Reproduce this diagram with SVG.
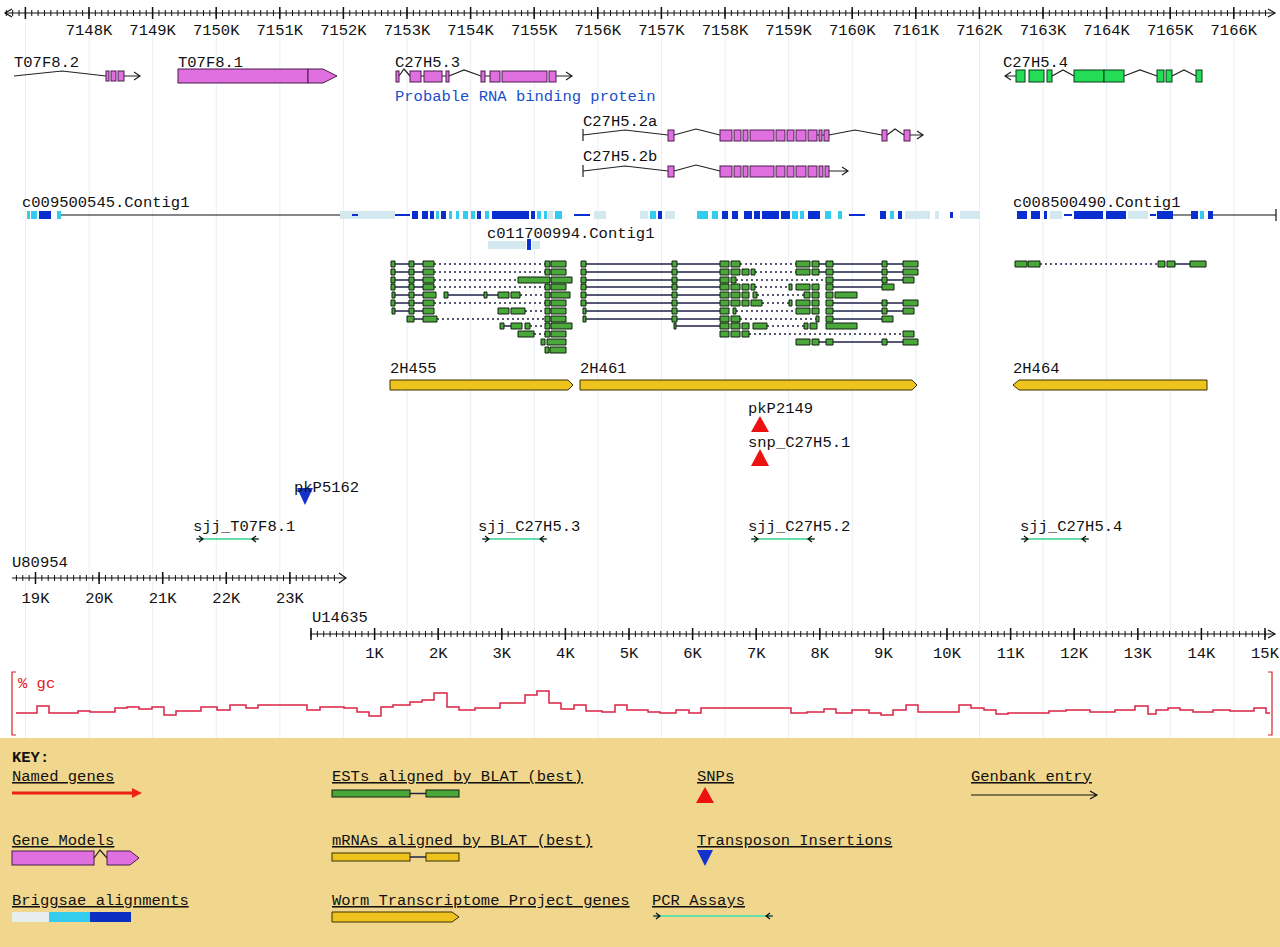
<svg xmlns="http://www.w3.org/2000/svg" width="1280" height="947" viewBox="0 0 1280 947">
<defs>
<style>
.t{font-family:"Liberation Mono","DejaVu Sans Mono",monospace;font-size:15.5px;fill:#111}
.u{text-decoration:underline}
.ex{fill:#e070e0;stroke:#4a1a4a;stroke-width:1}
.exg{fill:#22dd55;stroke:#0a3a1a;stroke-width:1}
.in{fill:none;stroke:#222;stroke-width:1.2}
.ln{fill:none;stroke:#111;stroke-width:1.2}
.est{fill:#4aa83a;stroke:#102010;stroke-width:1}
.estl{fill:none;stroke:#20204a;stroke-width:1.5}
.estd{fill:none;stroke:#20204a;stroke-width:1.5;stroke-dasharray:2 3}
.bp{fill:#d4e8f0}
.bc{fill:#33ccee}
.bd{fill:#0a2fd0}
.yl{fill:#efc31e;stroke:#3a3000;stroke-width:1}
.red{fill:#ee1111}
.blue{fill:#1133cc}
.pcr{stroke:#66ddaa;stroke-width:2}
.tick1{stroke:#111;stroke-width:6;stroke-dasharray:1 5.36}
.tick2{stroke:#111;stroke-width:12;stroke-dasharray:1.5 62.1}
</style>
<pattern id="grid" x="25" y="0" width="63.6" height="10" patternUnits="userSpaceOnUse"><rect width="1" height="10" fill="#e8eff6"/></pattern>
</defs>
<rect width="1280" height="947" fill="#fff"/>
<rect x="0" y="20" width="1280" height="718" fill="url(#grid)"/>

<g id="ruler-top">
<line x1="5" y1="13" x2="1275" y2="13" class="ln"/>
<line x1="5.8" y1="13" x2="1270" y2="13" class="tick1"/>
<line x1="24.65" y1="13" x2="1270" y2="13" class="tick2"/>
<path d="M12,9 L5,13 L12,17 M1268,9 L1275,13 L1268,17" class="ln"/>
<g class="t" text-anchor="middle">
<text x="89" y="35">7148K</text><text x="152.6" y="35">7149K</text><text x="216.2" y="35">7150K</text><text x="279.8" y="35">7151K</text><text x="343.4" y="35">7152K</text><text x="407" y="35">7153K</text><text x="470.6" y="35">7154K</text><text x="534.2" y="35">7155K</text><text x="597.8" y="35">7156K</text><text x="661.4" y="35">7157K</text><text x="725" y="35">7158K</text><text x="788.6" y="35">7159K</text><text x="852.2" y="35">7160K</text><text x="915.8" y="35">7161K</text><text x="979.4" y="35">7162K</text><text x="1043" y="35">7163K</text><text x="1106.6" y="35">7164K</text><text x="1170.2" y="35">7165K</text><text x="1233.8" y="35">7166K</text>
</g>
</g>

<g id="gene-T07F8.2">
<text x="14" y="67" class="t">T07F8.2</text>
<path d="M14,76 L62,71 L106,76" class="in"/>
<rect x="106" y="71" width="3" height="10" class="ex"/><rect x="111" y="71" width="5" height="10" class="ex"/><rect x="118" y="71" width="6" height="10" class="ex"/>
<path d="M124,76 H140 M134,72 L140,76 L134,80" class="in"/>
</g>
<g id="gene-T07F8.1">
<text x="178" y="67" class="t">T07F8.1</text>
<rect x="178" y="69" width="130" height="14" class="ex"/>
<path d="M308,69 H323 L337,76 L323,83 H308 Z" class="ex"/>
</g>
<g id="gene-C27H5.3">
<text x="395" y="67" class="t">C27H5.3</text>
<text x="395" y="101" class="t" style="fill:#1a4fcc">Probable RNA binding protein</text>
<path d="M399,76 L404,69 L410,76 M421,76 H424 M442,76 H446 M449,76 L464,70 L481,76 M485,76 H490 M556,76 H572 M566,72 L572,76 L566,80" class="in"/>
<rect x="396" y="71" width="3" height="11" class="ex"/><rect x="410" y="71" width="11" height="11" class="ex"/><rect x="424" y="71" width="18" height="11" class="ex"/><rect x="446" y="71" width="3" height="11" class="ex"/><rect x="481" y="71" width="4" height="11" class="ex"/><rect x="490" y="71" width="10" height="11" class="ex"/><rect x="502" y="71" width="45" height="11" class="ex"/><rect x="549" y="71" width="7" height="11" class="ex"/>
</g>
<g id="gene-C27H5.2a">
<text x="583" y="126" class="t">C27H5.2a</text>
<path d="M583,129 V141 M583,135 L625,130 L668,135 M674,135 L696,129 L720,135 M817,135 H824 M829,135 L855,130 L882,135 M887,135 L895,129 L904,135 M910,135 H923 M917,131 L923,135 L917,139" class="in"/>
<g class="ex"><rect x="668" y="130" width="6" height="11"/><rect x="720" y="130" width="12" height="11"/><rect x="734" y="130" width="7" height="11"/><rect x="743" y="130" width="5" height="11"/><rect x="750" y="130" width="24" height="11"/><rect x="776" y="130" width="9" height="11"/><rect x="787" y="130" width="7" height="11"/><rect x="796" y="130" width="10" height="11"/><rect x="808" y="130" width="9" height="11"/><rect x="819" y="130" width="3" height="11"/><rect x="824" y="130" width="5" height="11"/><rect x="882" y="130" width="5" height="11"/><rect x="904" y="130" width="6" height="11"/></g>
</g>
<g id="gene-C27H5.2b">
<text x="583" y="161" class="t">C27H5.2b</text>
<path d="M583,165 V177 M583,171 L625,166 L668,171 M674,171 L696,165 L720,171 M829,171 H848 M842,167 L848,171 L842,175" class="in"/>
<g class="ex"><rect x="668" y="166" width="6" height="11"/><rect x="720" y="166" width="12" height="11"/><rect x="734" y="166" width="7" height="11"/><rect x="743" y="166" width="5" height="11"/><rect x="750" y="166" width="24" height="11"/><rect x="776" y="166" width="9" height="11"/><rect x="787" y="166" width="7" height="11"/><rect x="796" y="166" width="10" height="11"/><rect x="808" y="166" width="9" height="11"/><rect x="819" y="166" width="4" height="11"/><rect x="825" y="166" width="4" height="11"/></g>
</g>
<g id="gene-C27H5.4">
<text x="1003" y="67" class="t">C27H5.4</text>
<path d="M1005,76 H1016 M1011,72 L1005,76 L1011,80 M1052,76 L1063,70 L1074,76 M1124,76 L1140,70 L1157,76 M1172,76 L1184,70 L1196,76" class="in"/>
<g class="exg"><rect x="1016" y="70" width="9" height="12"/><rect x="1029" y="70" width="15" height="12"/><rect x="1047" y="70" width="5" height="12"/><rect x="1074" y="70" width="30" height="12"/><rect x="1104" y="70" width="20" height="12"/><rect x="1157" y="70" width="7" height="12"/><rect x="1166" y="70" width="6" height="12"/><rect x="1196" y="70" width="6" height="12"/></g>
</g>

<g id="contig-c009500545">
<text x="22" y="207" class="t">c009500545.Contig1</text>
<path d="M61,215 H340" class="ln"/>
<path class="bp" d="M340,211h55v8h-55z M548,211h5v8h-5z M594,211h12v8h-12z M640,211h8v8h-8z M665,211h10v8h-10z M905,211h25v8h-25z M935,211h4v8h-4z M960,211h20v8h-20z"/>
<path class="bc" d="M27,211h3v8h-3z M31,211h6v8h-6z M57,211h4v8h-4z M436,211h3v8h-3z M449,211h3v8h-3z M456,211h3v8h-3z M463,211h5v8h-5z M471,211h4v8h-4z M485,211h4v8h-4z M537,211h4v8h-4z M544,211h3v8h-3z M555,211h7v8h-7z M650,211h6v8h-6z M697,211h11v8h-11z M712,211h6v8h-6z M792,211h6v8h-6z M800,211h4v8h-4z M825,211h6v8h-6z M838,211h4v8h-4z M890,211h4v8h-4z"/>
<path class="bd" d="M39,211h12v8h-12z M412,211h6v8h-6z M422,211h6v8h-6z M430,211h4v8h-4z M441,211h5v8h-5z M477,211h4v8h-4z M492,211h37v8h-37z M531,211h4v8h-4z M658,211h4v8h-4z M722,211h6v8h-6z M732,211h6v8h-6z M744,211h8v8h-8z M754,211h6v8h-6z M762,211h17v8h-17z M781,211h9v8h-9z M808,211h12v8h-12z M880,211h6v8h-6z M898,211h4v8h-4z M950,212h3v6h-3z M352,214h6v2h-6z M395,214h15v2h-15z M574,214h16v2h-16z M849,214h16v2h-16z"/>
</g>
<g id="contig-c008500490">
<text x="1013" y="207" class="t">c008500490.Contig1</text>
<path d="M1173,215 H1191 M1213,215 H1276 M1276,209 V221" class="ln"/>
<path class="bp" d="M1050,211h12v8h-12z M1128,211h20v8h-20z"/>
<path class="bc" d="M1200,211h4v8h-4z"/>
<path class="bd" d="M1017,211h10v8h-10z M1031,211h9v8h-9z M1044,211h3v8h-3z M1074,211h29v8h-29z M1106,211h20v8h-20z M1157,211h16v8h-16z M1191,211h7v8h-7z M1208,211h5v8h-5z M1064,214h8v2h-8z M1150,214h6v2h-6z"/>
</g>
<g id="contig-c011700994">
<text x="487" y="238" class="t">c011700994.Contig1</text>
<path class="bp" d="M488,241h38v8h-38z M532,241h8v8h-8z"/>
<path class="bd" d="M527,239h4v11h-4z"/>
</g>

<g id="ests">
<path class="estd" d="M434,264H545M740,264H796M1040,264H1158 M434,272H545M755,272H796 M434,280H518M736,280H826 M434,287H545M755,287H789 M520,295H545M757,295H804 M434,303H545M762,303H789 M525,311H545M736,311H796 M437,319H545M740,319H816 M530,326H545M767,326H804 M534,334H545M749,334H903"/>
<path class="estl" d="M395,264H409M414,264H423M586,264H672M677,264H720M819,264H826M833,264H882M887,264H903M1175,264H1190 M395,272H409M414,272H423M586,272H672M677,272H720M819,272H826M833,272H882M887,272H903 M395,280H409M414,280H423M586,280H672M677,280H720M833,280H882M887,280H903 M395,287H409M414,287H423M586,287H672M677,287H720M833,287H882 M395,295H409M414,295H423M448,295H484M487,295H498M586,295H672M677,295H720 M395,303H409M414,303H423M586,303H672M677,303H720M833,303H882M887,303H903 M395,311H409M414,311H423M586,311H672M677,311H720M833,311H882M887,311H903 M414,319H423M586,319H672M677,319H720M833,319H882 M504,326H511M676,326H720 M819,342H826M833,342H882M887,342H903"/>
<path class="est" d="M391,261h4v6h-4z M409,261h5v6h-5z M423,261h11v6h-11z M545,261h5v6h-5z M551,261h15v6h-15z M581,261h5v6h-5z M672,261h5v6h-5z M720,261h9v6h-9z M731,261h9v6h-9z M796,261h14v6h-14z M812,261h7v6h-7z M826,261h7v6h-7z M882,261h5v6h-5z M903,261h15v6h-15z M1015,261h12v6h-12z M1028,261h12v6h-12z M1158,261h7v6h-7z M1167,261h8v6h-8z M1190,261h16v6h-16z
M391,269h4v6h-4z M409,269h5v6h-5z M423,269h11v6h-11z M545,269h5v6h-5z M551,269h15v6h-15z M581,269h5v6h-5z M672,269h5v6h-5z M720,269h9v6h-9z M731,269h9v6h-9z M742,269h7v6h-7z M751,269h4v6h-4z M796,269h14v6h-14z M812,269h7v6h-7z M826,269h7v6h-7z M882,269h5v6h-5z M903,269h15v6h-15z
M391,277h4v6h-4z M409,277h5v6h-5z M423,277h11v6h-11z M518,277h32v6h-32z M551,277h21v6h-21z M581,277h5v6h-5z M672,277h5v6h-5z M720,277h9v6h-9z M731,277h5v6h-5z M826,277h7v6h-7z M882,277h5v6h-5z M903,277h11v6h-11z
M391,284h4v6h-4z M409,284h5v6h-5z M423,284h11v6h-11z M545,284h5v6h-5z M551,284h15v6h-15z M581,284h5v6h-5z M672,284h5v6h-5z M720,284h9v6h-9z M731,284h9v6h-9z M742,284h7v6h-7z M751,284h4v6h-4z M789,284h3v6h-3z M796,284h14v6h-14z M812,284h7v6h-7z M826,284h7v6h-7z M882,284h12v6h-12z
M392,292h3v6h-3z M409,292h5v6h-5z M423,292h13v6h-13z M444,292h4v6h-4z M484,292h3v6h-3z M498,292h11v6h-11z M511,292h9v6h-9z M545,292h5v6h-5z M551,292h19v6h-19z M581,292h5v6h-5z M672,292h5v6h-5z M720,292h9v6h-9z M731,292h9v6h-9z M742,292h7v6h-7z M753,292h4v6h-4z M804,292h6v6h-6z M812,292h7v6h-7z M826,292h7v6h-7z M835,292h22v6h-22z
M391,300h4v6h-4z M409,300h5v6h-5z M423,300h11v6h-11z M545,300h5v6h-5z M551,300h15v6h-15z M581,300h5v6h-5z M672,300h5v6h-5z M720,300h9v6h-9z M731,300h9v6h-9z M742,300h7v6h-7z M751,300h11v6h-11z M789,300h3v6h-3z M796,300h14v6h-14z M812,300h7v6h-7z M826,300h7v6h-7z M882,300h5v6h-5z M903,300h15v6h-15z
M392,308h3v6h-3z M409,308h5v6h-5z M423,308h11v6h-11z M498,308h11v6h-11z M511,308h14v6h-14z M545,308h5v6h-5z M551,308h15v6h-15z M583,308h3v6h-3z M672,308h5v6h-5z M720,308h9v6h-9z M733,308h3v6h-3z M796,308h14v6h-14z M812,308h7v6h-7z M826,308h7v6h-7z M882,308h5v6h-5z M903,308h11v6h-11z
M407,316h7v6h-7z M423,316h14v6h-14z M545,316h5v6h-5z M551,316h15v6h-15z M583,316h3v6h-3z M672,316h5v6h-5z M720,316h9v6h-9z M731,316h9v6h-9z M816,316h3v6h-3z M826,316h7v6h-7z M882,316h11v6h-11z
M500,323h4v6h-4z M511,323h11v6h-11z M525,323h5v6h-5z M545,323h5v6h-5z M551,323h21v6h-21z M674,323h2v6h-2z M720,323h9v6h-9z M731,323h9v6h-9z M742,323h7v6h-7z M753,323h14v6h-14z M804,323h4v6h-4z M810,323h7v6h-7z M826,323h31v6h-31z
M518,331h16v6h-16z M545,331h5v6h-5z M551,331h15v6h-15z M720,331h9v6h-9z M731,331h9v6h-9z M742,331h7v6h-7z M903,331h11v6h-11z
M541,339h4v6h-4z M547,339h19v6h-19z M796,339h14v6h-14z M812,339h7v6h-7z M826,339h7v6h-7z M882,339h5v6h-5z M903,339h15v6h-15z
M545,347h4v6h-4z M550,347h16v6h-16z"/>
</g>

<g id="wtp-2H455"><text x="390" y="373" class="t">2H455</text><path d="M390,380 H568 L573,385 L568,390 H390 Z" class="yl"/></g>
<g id="wtp-2H461"><text x="580" y="373" class="t">2H461</text><path d="M580,380 H912 L917,385 L912,390 H580 Z" class="yl"/></g>
<g id="wtp-2H464"><text x="1013" y="373" class="t">2H464</text><path d="M1013,385 L1019,380 H1207 V390 H1019 Z" class="yl"/></g>

<g id="snp-pkP2149"><text x="748" y="413" class="t">pkP2149</text><path d="M760,416 L769,432 L751,432 Z" class="red"/></g>
<g id="snp-C27H5.1"><text x="748" y="447" class="t">snp_C27H5.1</text><path d="M760,449 L769,466 L751,466 Z" class="red"/></g>
<g id="transposon-pkP5162"><path d="M297,488 L313,488 L305,505 Z" class="blue"/><text x="294" y="492" class="t">pkP5162</text></g>

<g id="pcr-T07F8.1"><text x="193" y="531" class="t">sjj_T07F8.1</text><line x1="197" y1="539" x2="258" y2="539" class="pcr"/><path d="M196,539 H202 M199,536 L203,539 L199,542 M259,539 H253 M256,536 L252,539 L256,542" class="ln"/></g>
<g id="pcr-C27H5.3"><text x="478" y="531" class="t">sjj_C27H5.3</text><line x1="483" y1="539" x2="546" y2="539" class="pcr"/><path d="M482,539 H488 M485,536 L489,539 L485,542 M547,539 H541 M544,536 L540,539 L544,542" class="ln"/></g>
<g id="pcr-C27H5.2"><text x="748" y="531" class="t">sjj_C27H5.2</text><line x1="752" y1="539" x2="814" y2="539" class="pcr"/><path d="M751,539 H757 M754,536 L758,539 L754,542 M815,539 H809 M812,536 L808,539 L812,542" class="ln"/></g>
<g id="pcr-C27H5.4"><text x="1020" y="531" class="t">sjj_C27H5.4</text><line x1="1022" y1="539" x2="1088" y2="539" class="pcr"/><path d="M1021,539 H1027 M1024,536 L1028,539 L1024,542 M1089,539 H1083 M1086,536 L1082,539 L1086,542" class="ln"/></g>

<g id="genbank-U80954">
<text x="12" y="567" class="t">U80954</text>
<line x1="12" y1="578" x2="345" y2="578" class="ln"/>
<line x1="15.9" y1="578" x2="340" y2="578" class="tick1"/>
<line x1="34.75" y1="578" x2="340" y2="578" class="tick2"/>
<path d="M339,573 L346,578 L339,583" class="ln"/>
<g class="t" text-anchor="middle"><text x="35.5" y="603">19K</text><text x="99.1" y="603">20K</text><text x="162.7" y="603">21K</text><text x="226.3" y="603">22K</text><text x="289.9" y="603">23K</text></g>
</g>
<g id="genbank-U14635">
<text x="312" y="622" class="t">U14635</text>
<line x1="311" y1="634" x2="1275" y2="634" class="ln"/>
<line x1="310.5" y1="634" x2="1270" y2="634" class="tick1"/>
<line x1="310.25" y1="634" x2="1270" y2="634" class="tick2"/>
<path d="M1268,630 L1275,634 L1268,638" class="ln"/>
<g class="t" text-anchor="middle"><text x="374.6" y="658">1K</text><text x="438.2" y="658">2K</text><text x="501.8" y="658">3K</text><text x="565.4" y="658">4K</text><text x="629" y="658">5K</text><text x="692.6" y="658">6K</text><text x="756.2" y="658">7K</text><text x="819.8" y="658">8K</text><text x="883.4" y="658">9K</text><text x="947" y="658">10K</text><text x="1010.6" y="658">11K</text><text x="1074.2" y="658">12K</text><text x="1137.8" y="658">13K</text><text x="1201.4" y="658">14K</text><text x="1265" y="658">15K</text></g>
</g>

<g id="gc-plot">
<path d="M16,672 H12 V735 H16 M1268,672 H1272 V735 H1268" fill="none" stroke="#dd2222" stroke-width="1.2"/>
<text x="18" y="688" class="t" style="fill:#dd2222">% gc</text>
<path fill="none" stroke="#dd2244" stroke-width="1.5" d="M16,713 H37 V706 H49 V713 H78 V711 H90 V712 H115 V708 H127 V707 H139 V709 H152 V707 H164 V715 H176 V711 H201 V707 H217 V710 H230 V705 H246 V708 H258 V705 H307 V710 H320 V707 H344 V708 H357 V712 H369 V716 H381 V707 H393 V705 H410 V702 H422 V700 H434 V693 H447 V707 H459 V710 H475 V708 H500 V703 H525 V695 H537 V691 H549 V703 H561 V709 H574 V705 H586 V711 H602 V712 H615 V705 H627 V710 H648 V712 H660 V713 H676 V710 H689 V713 H701 V708 H791 V713 H807 V712 H824 V709 H836 V713 H852 V710 H869 V713 H881 V715 H893 V710 H906 V705 H918 V712 H959 V705 H971 V708 H984 V710 H996 V714 H1008 V713 H1049 V711 H1066 V710 H1090 V712 H1115 V710 H1135 V706 H1148 V714 H1156 V710 H1168 V708 H1180 V710 H1193 V712 H1213 V710 H1230 V711 H1254 V708 H1266 V713 H1270"/>
</g>

<g id="key">
<rect x="0" y="738" width="1280" height="209" fill="#f1d78e"/>
<text x="12" y="762" class="t" font-weight="bold">KEY:</text>
<g id="key-named-genes"><text x="12" y="781" class="t u">Named genes</text><line x1="12" y1="793" x2="136" y2="793" stroke="#ee2211" stroke-width="3"/><path d="M132,788 L142,793 L132,798 Z" fill="#ee2211"/></g>
<g id="key-ests"><text x="332" y="781" class="t u">ESTs aligned by BLAT (best)</text><line x1="410" y1="793.5" x2="426" y2="793.5" class="estl"/><rect x="332" y="790" width="78" height="7" class="est"/><rect x="426" y="790" width="33" height="7" class="est"/></g>
<g id="key-snps"><text x="697" y="781" class="t u">SNPs</text><path d="M705,787 L714,803 L696,803 Z" class="red"/></g>
<g id="key-genbank"><text x="971" y="781" class="t u">Genbank entry</text><path d="M971,795 H1097 M1090,791 L1097,795 L1090,799" class="ln"/></g>
<g id="key-gene-models"><text x="12" y="845" class="t u">Gene Models</text><rect x="12" y="851" width="82" height="14" class="ex"/><path d="M94,858 L100,850 L107,858" class="in"/><path d="M107,851 H130 L139,858 L130,865 H107 Z" class="ex"/></g>
<g id="key-mrnas"><text x="332" y="845" class="t u">mRNAs aligned by BLAT (best)</text><line x1="410" y1="857" x2="426" y2="857" class="estl"/><rect x="332" y="853" width="78" height="8" class="yl"/><rect x="426" y="853" width="33" height="8" class="yl"/></g>
<g id="key-transposon"><text x="697" y="845" class="t u">Transposon Insertions</text><path d="M697,850 L713,850 L705,866 Z" class="blue"/></g>
<g id="key-briggsae"><text x="12" y="905" class="t u">Briggsae alignments</text><rect x="12" y="912" width="37" height="10" fill="#e6eef0"/><rect x="49" y="912" width="41" height="10" class="bc"/><rect x="90" y="912" width="41" height="10" fill="#0a2fc0"/></g>
<g id="key-wtp"><text x="332" y="905" class="t u">Worm Transcriptome Project genes</text><path d="M332,912 H452 L459,917 L452,922 H332 Z" class="yl"/></g>
<g id="key-pcr"><text x="652" y="905" class="t u">PCR Assays</text><line x1="654" y1="916" x2="772" y2="916" class="pcr"/><path d="M653,916 H659 M656,913 L660,916 L656,919 M773,916 H767 M770,913 L766,916 L770,919" class="ln"/></g>
</g>
</svg>
